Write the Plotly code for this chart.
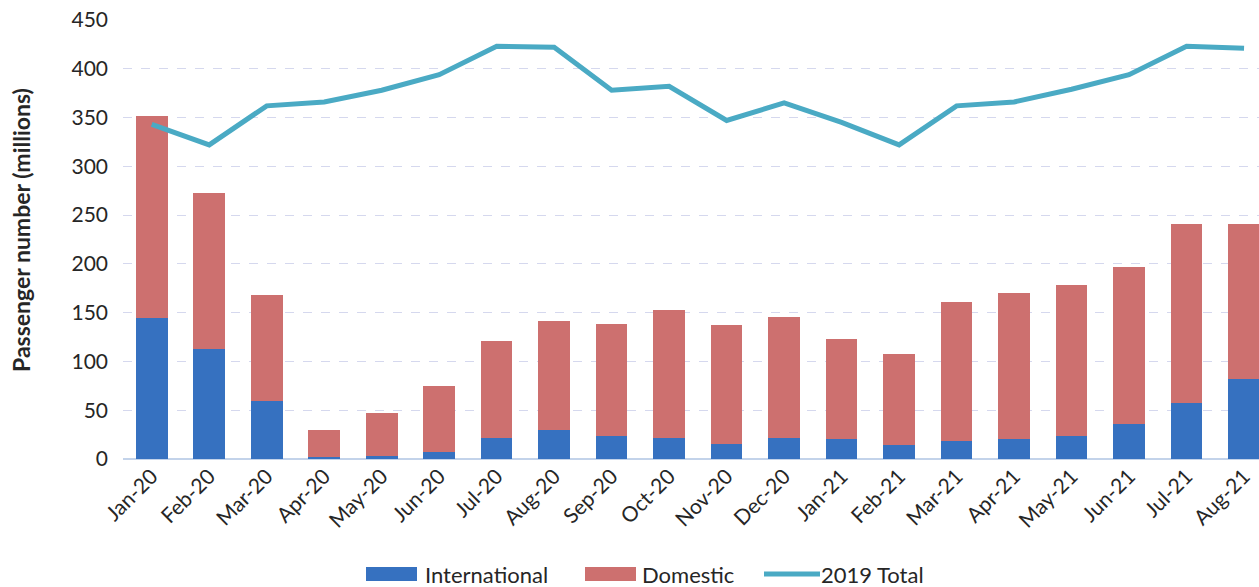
import plotly.graph_objects as go

months = ["Jan-20", "Feb-20", "Mar-20", "Apr-20", "May-20", "Jun-20", "Jul-20", "Aug-20",
          "Sep-20", "Oct-20", "Nov-20", "Dec-20", "Jan-21", "Feb-21", "Mar-21", "Apr-21",
          "May-21", "Jun-21", "Jul-21", "Aug-21"]
international = [145, 113, 59.5, 2, 3, 7.5, 22, 30, 23.5, 22, 15.5, 22, 20, 14, 18, 20, 23.5, 35.5, 57.5, 82]
total_2020_21 = [352, 273, 168, 30, 47, 75, 121, 141, 138, 153, 137, 146, 123, 108, 161, 170, 178, 197, 241, 241]
domestic = [t - i for t, i in zip(total_2020_21, international)]
total_2019 = [343, 322, 362, 366, 378, 394, 423, 422, 378, 382, 347, 365,
              345, 322, 362, 366, 379, 394, 423, 421]
yticks = [0, 50, 100, 150, 200, 250, 300, 350, 400, 450]

FONT = "Lato"
TXT = "#262626"
C_INT = "#3671c0"
C_DOM = "#cd706f"
C_LINE = "#4aaac4"

W, H = 1259, 587
L, R, T, B = 123, 0, 20, 128
PW, PH = W - L - R, H - T - B


def px(x):
    return (x - L) / PW


def py(y):
    return (H - B - y) / PH


fig = go.Figure()
fig.add_trace(go.Bar(x=months, y=international, name="International",
                     marker=dict(color=C_INT, line=dict(width=0))))
fig.add_trace(go.Bar(x=months, y=domestic, name="Domestic",
                     marker=dict(color=C_DOM, line=dict(width=0))))
fig.add_trace(go.Scatter(x=months, y=total_2019, name="2019 Total", mode="lines",
                         line=dict(color=C_LINE, width=5)))

LEG_Y = 574
# custom legend (wide swatches like the original)
shapes = [
    dict(type="rect", xref="paper", yref="paper", x0=px(366), x1=px(417), y0=py(LEG_Y + 7), y1=py(LEG_Y - 7),
         fillcolor=C_INT, line=dict(width=0)),
    dict(type="rect", xref="paper", yref="paper", x0=px(585), x1=px(636), y0=py(LEG_Y + 7), y1=py(LEG_Y - 7),
         fillcolor=C_DOM, line=dict(width=0)),
    dict(type="line", xref="paper", yref="paper", x0=px(764), x1=px(820), y0=py(LEG_Y), y1=py(LEG_Y),
         line=dict(color=C_LINE, width=5)),
]
leg_font = dict(family=FONT, size=22, color=TXT)
annotations = [
    dict(text="International", xref="paper", yref="paper", x=px(424), y=py(LEG_Y),
         xanchor="left", yanchor="middle", showarrow=False, borderpad=0, font=leg_font),
    dict(text="Domestic", xref="paper", yref="paper", x=px(641), y=py(LEG_Y),
         xanchor="left", yanchor="middle", showarrow=False, borderpad=0, font=leg_font),
    dict(text="2019 Total", xref="paper", yref="paper", x=px(820), y=py(LEG_Y),
         xanchor="left", yanchor="middle", showarrow=False, borderpad=0, font=leg_font),
    dict(text="<b>Passenger number (millions)</b>", xref="paper", yref="paper", x=px(21), y=py(230),
         xanchor="center", yanchor="middle", textangle=-90, showarrow=False,
         font=dict(family=FONT, size=23, color=TXT)),
]

fig.update_layout(
    barmode="stack",
    bargap=0.45,
    width=W, height=H,
    margin=dict(l=L, r=R, t=T, b=B, autoexpand=False),
    plot_bgcolor="white", paper_bgcolor="white",
    font=dict(family=FONT, size=20, color=TXT),
    showlegend=False,
    shapes=shapes,
    annotations=annotations,
    xaxis=dict(type="category", range=[-0.5, 19.26], tickangle=-45, automargin=False,
               tickfont=dict(family=FONT, size=21, color=TXT),
               showgrid=False, showline=False, ticks=""),
    yaxis=dict(range=[0, 450], tickvals=yticks, showgrid=True, automargin=False,
               gridcolor="#d5d8ee", griddash="dash", gridwidth=1,
               zeroline=True, zerolinecolor="#c3d3ea", zerolinewidth=1.5,
               tickfont=dict(family=FONT, size=21, color=TXT),
               ticklabelstandoff=14),
)

fig.write_html("out.html", config={"displayModeBar": False},
               post_script="document.body.style.margin='0';document.body.style.overflow='hidden';")
